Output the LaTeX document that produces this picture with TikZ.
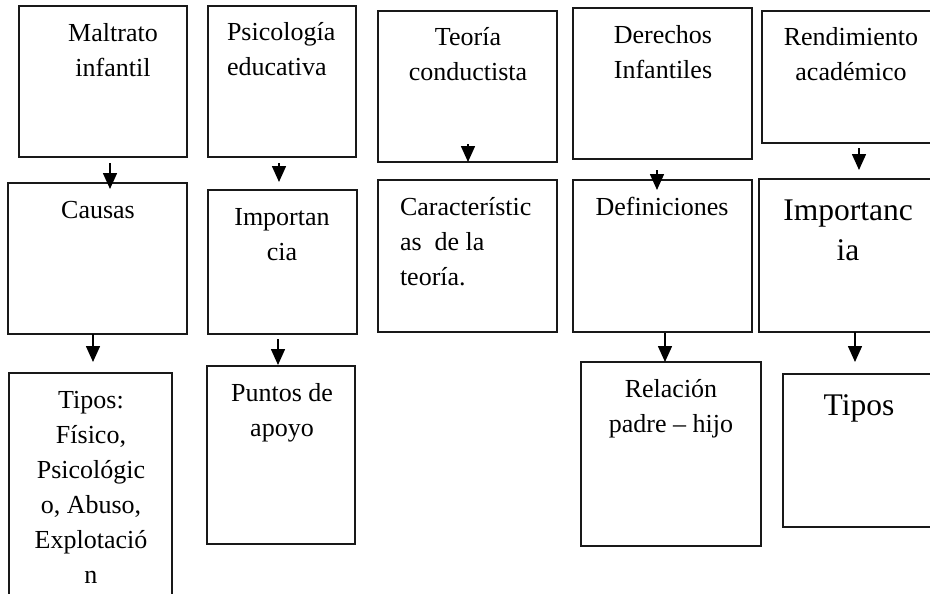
\documentclass[tikz,border=0pt]{standalone}
\usepackage{fontspec}
\setmainfont{Liberation Serif}
\usetikzlibrary{arrows.meta}
\begin{document}
\begin{tikzpicture}[x=1pt,y=-1pt,
  box/.style={draw=black!90, line width=1.4pt, inner sep=0pt, outer sep=0pt, anchor=north west},
  txt/.style={inner sep=0pt, outer sep=0pt, align=center, anchor=base, font=\fontsize{26}{35}\selectfont},
  txtl/.style={txt, align=left, anchor=base west},
  big/.style={txt, font=\fontsize{31.5}{40}\selectfont},
  arr/.style={line width=1.6pt, -{Triangle[width=14pt,length=16pt]}}]
\clip (0,0) rectangle (930,594);
\fill[white] (0,0) rectangle (930,594);
% row 1
\node[box, minimum width=168pt, minimum height=151pt] (mal) at (19,6) {};
\node[box, minimum width=148pt, minimum height=151pt] (psi) at (208,6) {};
\node[box, minimum width=179pt, minimum height=151pt] (teo) at (378,11) {};
\node[box, minimum width=179pt, minimum height=151pt] (der) at (573,8) {};
\node[box, minimum width=175pt, minimum height=132pt] (ren) at (762,11) {};
% row 2
\node[box, minimum width=179pt, minimum height=151pt] (cau) at (8,183) {};
\node[box, minimum width=149pt, minimum height=144pt] (imp) at (208,190) {};
\node[box, minimum width=179pt, minimum height=152pt] (car) at (378,180) {};
\node[box, minimum width=179pt, minimum height=152pt] (def) at (573,180) {};
\node[box, minimum width=178pt, minimum height=153pt] (imq) at (759,179) {};
% row 3
\node[box, minimum width=163pt, minimum height=230pt] (tip) at (9,373) {};
\node[box, minimum width=148pt, minimum height=178pt] (pun) at (207,366) {};
\node[box, minimum width=180pt, minimum height=184pt] (rel) at (581,362) {};
\node[box, minimum width=154pt, minimum height=153pt] (tiq) at (783,374) {};
% texts (anchor = baseline of last line)
\node[txt] (malT) at (113,77) {Maltrato\\infantil};
\node[txtl] (psiT) at (227,76) {Psicología\\educativa};
\node[txt] (teoT) at (468,81) {Teoría\\conductista};
\node[txt] (derT) at (663,78) {Derechos\\Infantiles};
\node[txt] (renT) at (851,81) {Rendimiento\\académico};
\node[txt] (cauT) at (98,218) {Causas};
\node[txt] (impT) at (282,260) {Importan\\cia};
\node[txtl] (carT) at (400,285) {Característic\\as\ \ de la\\teoría.};
\node[txt] (defT) at (662,215) {Definiciones};
\node[big] (imqT) at (848,260) {Importanc\\ia};
\node[txt] (tipT) at (91,583) {Tipos:\\Físico,\\Psicológic\\o, Abuso,\\Explotació\\n};
\node[txt] (punT) at (282,436) {Puntos de\\apoyo};
\node[txt] (relT) at (671,432) {Relación\\padre – hijo};
\node[big] (tiqT) at (859,415) {Tipos};
% arrows
\coordinate (a1s) at (110,163); \coordinate (a1e) at (110,189);
\coordinate (a2s) at (279,163); \coordinate (a2e) at (279,182);
\coordinate (a3s) at (468,144); \coordinate (a3e) at (468,162);
\coordinate (a4s) at (657,170); \coordinate (a4e) at (657,190);
\coordinate (a5s) at (859,148); \coordinate (a5e) at (859,170);
\coordinate (b1s) at (93,334);  \coordinate (b1e) at (93,362);
\coordinate (b2s) at (278,339); \coordinate (b2e) at (278,365);
\coordinate (b4s) at (665,333); \coordinate (b4e) at (665,362);
\coordinate (b5s) at (855,332); \coordinate (b5e) at (855,362);
\draw[arr] (a1s) -- (a1e);
\draw[arr] (a2s) -- (a2e);
\draw[arr] (a3s) -- (a3e);
\draw[arr] (a4s) -- (a4e);
\draw[arr] (a5s) -- (a5e);
\draw[arr] (b1s) -- (b1e);
\draw[arr] (b2s) -- (b2e);
\draw[arr] (b4s) -- (b4e);
\draw[arr] (b5s) -- (b5e);
\end{tikzpicture}
\end{document}
